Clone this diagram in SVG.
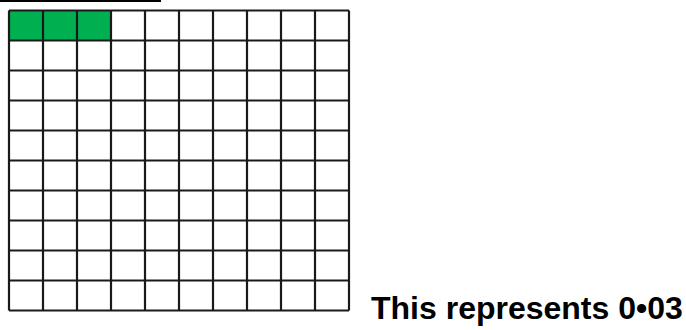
<svg xmlns="http://www.w3.org/2000/svg" width="686" height="330" viewBox="0 0 686 330">
<style>
.cell{fill:#fff;stroke:#1a1a1a;stroke-width:2}
.on{fill:#00b050}
.lbl{font-family:"Liberation Sans",Arial,sans-serif;font-weight:bold;font-size:32px;fill:#000}
</style>
<rect width="686" height="330" fill="#fff"/>
<line x1="0" y1="1" x2="161" y2="1" stroke="#000" stroke-width="2"/>
<g id="grid">
<rect x="9" y="10.5" width="102" height="30" class="on"/>
<path d="M9 10.5H349M9 40.5H349M9 70.5H349M9 100.5H349M9 130.5H349M9 160.5H349M9 190.5H349M9 220.5H349M9 250.5H349M9 280.5H349M9 310.5H349M9 10.5V310.5M43 10.5V310.5M77 10.5V310.5M111 10.5V310.5M145 10.5V310.5M179 10.5V310.5M213 10.5V310.5M247 10.5V310.5M281 10.5V310.5M315 10.5V310.5M349 10.5V310.5" fill="none" stroke="#1a1a1a" stroke-width="2.2"/>
</g>
<g id="label">
<text x="371" y="318.5" class="lbl">This represents 0•03</text>
</g>
</svg>
